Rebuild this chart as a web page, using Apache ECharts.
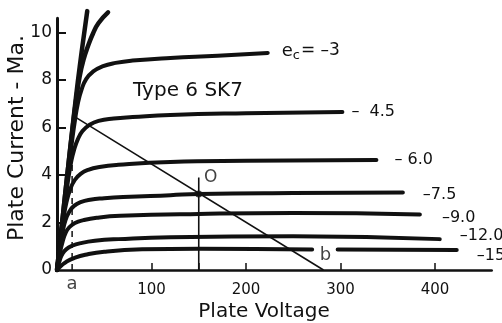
<!DOCTYPE html>
<html>
<head>
<meta charset="utf-8">
<script src="https://cdn.jsdelivr.net/npm/echarts@6/dist/echarts.min.js"></script>
<style>
  html, body { margin: 0; padding: 0; background: #fff; }
  #chart { width: 502px; height: 323px; }
</style>
</head>
<body>
<div id="chart"></div>
<script>
// Plate characteristics of the 6SK7 pentode: [plate volts, plate mA]
const curveSteepA = [[0,0],[4,1.45],[8,2.95],[12,4.4],[16,5.85],[20,7.25],[24,8.55],[28,9.75],[32,10.9]];
const curveSteepB = [[0,0],[4,1.45],[8,2.95],[12,4.4],[16,5.8],[20,7.1],[24,8.15],[28,8.85],[33,9.45],[38,9.95],[44,10.4],[54,10.85]];
const curveEc3   = [[0,0],[4,1.4],[8,2.8],[12,4.2],[16,5.45],[19,6.3],[22,7.0],[26,7.6],[31,8.05],[38,8.35],[48,8.57],[62,8.72],[80,8.82],[120,8.93],[170,9.02],[223,9.14]];
const curveEc45  = [[0,0],[4,1.35],[8,2.7],[12,3.85],[15,4.55],[18,5.05],[22,5.5],[27,5.85],[34,6.1],[44,6.28],[60,6.38],[80,6.44],[120,6.53],[200,6.6],[302,6.65]];
const curveEc6   = [[0,0],[4,1.25],[7,2.2],[10,2.85],[14,3.4],[19,3.8],[25,4.05],[33,4.22],[45,4.34],[65,4.43],[120,4.55],[200,4.6],[338,4.63]];
const curveEc75  = [[0,0],[3,0.9],[6,1.6],[9,2.1],[13,2.45],[18,2.7],[25,2.86],[35,2.96],[50,3.02],[70,3.07],[120,3.15],[150,3.2],[250,3.24],[366,3.26]];
const curveEc9   = [[0,0],[3,0.7],[6,1.2],[9,1.55],[13,1.8],[19,1.98],[28,2.1],[42,2.2],[67,2.28],[150,2.36],[250,2.4],[384,2.34]];
const curveEc12  = [[0,0],[3,0.42],[6,0.7],[10,0.88],[16,1.02],[25,1.13],[40,1.23],[65,1.3],[120,1.38],[250,1.42],[405,1.3]];
const curveEc15  = [[0,0],[5,0.2],[10,0.35],[18,0.5],[30,0.64],[50,0.77],[90,0.87],[150,0.9],[270,0.86],[284,null],[297,0.86],[423,0.84]];

// Load line a–b, its end markers and the operating point O
const loadLine   = [[19,6.45],[282,0]];
const lineA      = [[16,0],[16,4.6]];
const lineO      = [[150,0],[150,3.9]];
const pointO     = [[150,3.2]];
const pointA     = [16,0];
const pointB     = [282,0];

// Grid-bias labels at the end of each curve
const ecLabels = ['{e|e}{c|c}{t|= –3}', '–  4.5', '– 6.0', '–7.5', '–9.0', '–12.0', '–15'];

// Axis ticks
const xTickValues  = [100, 150, 200, 300, 400];
const xLabelValues = [100, 200, 300, 400];
const yTickValues  = [2, 4, 6, 8, 10];
const yLabelValues = [0, 2, 4, 6, 8, 10];

const FONT = 'DejaVu Sans';
const INK = '#111';

function curve(data, width, label, dist, dy) {
  const s = {
    type: 'line',
    data: data,
    showSymbol: false,
    smooth: 0.5,
    clip: false,
    silent: true,
    lineStyle: { color: INK, width: width, cap: 'round', join: 'round' },
    animation: false
  };
  if (label) {
    s.endLabel = {
      show: true,
      formatter: label,
      distance: dist,
      offset: [0, dy],
      color: INK,
      fontFamily: FONT,
      fontSize: 16,
      rich: {
        e: { fontSize: 18, fontFamily: FONT, color: INK },
        c: { fontSize: 13, fontFamily: FONT, color: INK, padding: [10, 1, 0, 0] },
        t: { fontSize: 17, fontFamily: FONT, color: INK }
      }
    };
  }
  return s;
}

const chart = echarts.init(document.getElementById('chart'), null, { renderer: 'canvas' });

chart.setOption({
  backgroundColor: '#fff',
  animation: false,
  grid: { left: 57, top: 18.25, width: 434.7, height: 251.75, containLabel: false },
  xAxis: {
    type: 'value',
    min: 0, max: 460,
    axisLine: { onZero: false, lineStyle: { color: INK, width: 2.5 } },
    axisTick: { inside: true, length: 7, customValues: xTickValues, lineStyle: { color: INK, width: 1.5 } },
    axisLabel: { customValues: xLabelValues, margin: 13, color: INK, fontFamily: FONT, fontSize: 15 },
    splitLine: { show: false }
  },
  yAxis: {
    type: 'value',
    min: 0, max: 10.6,
    axisLine: { show: true, onZero: false, lineStyle: { color: INK, width: 3 } },
    axisTick: { show: true, inside: true, length: 9, customValues: yTickValues, lineStyle: { color: INK, width: 2 } },
    axisLabel: { customValues: yLabelValues, margin: 5, color: INK, fontFamily: FONT, fontSize: 17 },
    splitLine: { show: false }
  },
  graphic: [
    {
      type: 'text', x: 17, y: 138, rotation: Math.PI / 2,
      style: { text: 'Plate Current - Ma.', font: '22px "DejaVu Sans"', fill: INK, align: 'center', verticalAlign: 'middle' }
    },
    {
      type: 'text', x: 264, y: 312,
      style: { text: 'Plate Voltage', font: '20px "DejaVu Sans"', fill: INK, align: 'center', verticalAlign: 'middle' }
    },
    {
      type: 'text', x: 133, y: 91,
      style: { text: 'Type 6 SK7', font: '20px "DejaVu Sans"', fill: INK, align: 'left', verticalAlign: 'middle' }
    }
  ],
  series: [
    curve(curveSteepA, 4.5),
    curve(curveSteepB, 4.5),
    curve(curveEc3, 4, ecLabels[0], 14, -2),
    curve(curveEc45, 4, ecLabels[1], 9, 0),
    curve(curveEc6, 4, ecLabels[2], 18, 0),
    curve(curveEc75, 4, ecLabels[3], 20, 2),
    curve(curveEc9, 4, ecLabels[4], 22, 3),
    curve(curveEc12, 4, ecLabels[5], 20, -3),
    curve(curveEc15, 4, ecLabels[6], 20, 6),
    {
      type: 'line', data: loadLine, showSymbol: false, silent: true, animation: false,
      lineStyle: { color: INK, width: 1.6 }
    },
    {
      type: 'line', data: lineA, showSymbol: false, silent: true, animation: false,
      lineStyle: { color: INK, width: 1.5, type: [6, 5] }
    },
    {
      type: 'line', data: lineO, showSymbol: false, silent: true, animation: false,
      lineStyle: { color: INK, width: 1.6 }
    },
    {
      type: 'scatter', data: pointO, symbol: 'circle', symbolSize: 7, silent: true, animation: false,
      itemStyle: { color: INK },
      label: { show: true, formatter: 'O', position: 'top', distance: 4, offset: [12, 0], color: INK, fontFamily: FONT, fontSize: 17 }
    },
    {
      type: 'scatter', symbolSize: 0, silent: true, animation: false,
      data: [
        { value: pointA, label: { show: true, formatter: 'a', position: 'bottom', distance: 5 } },
        { value: pointB, label: { show: true, formatter: 'b', position: 'top', distance: 6, offset: [2, 0] } }
      ],
      label: { color: INK, fontFamily: FONT, fontSize: 18 }
    }
  ]
});
</script>
</body>
</html>
